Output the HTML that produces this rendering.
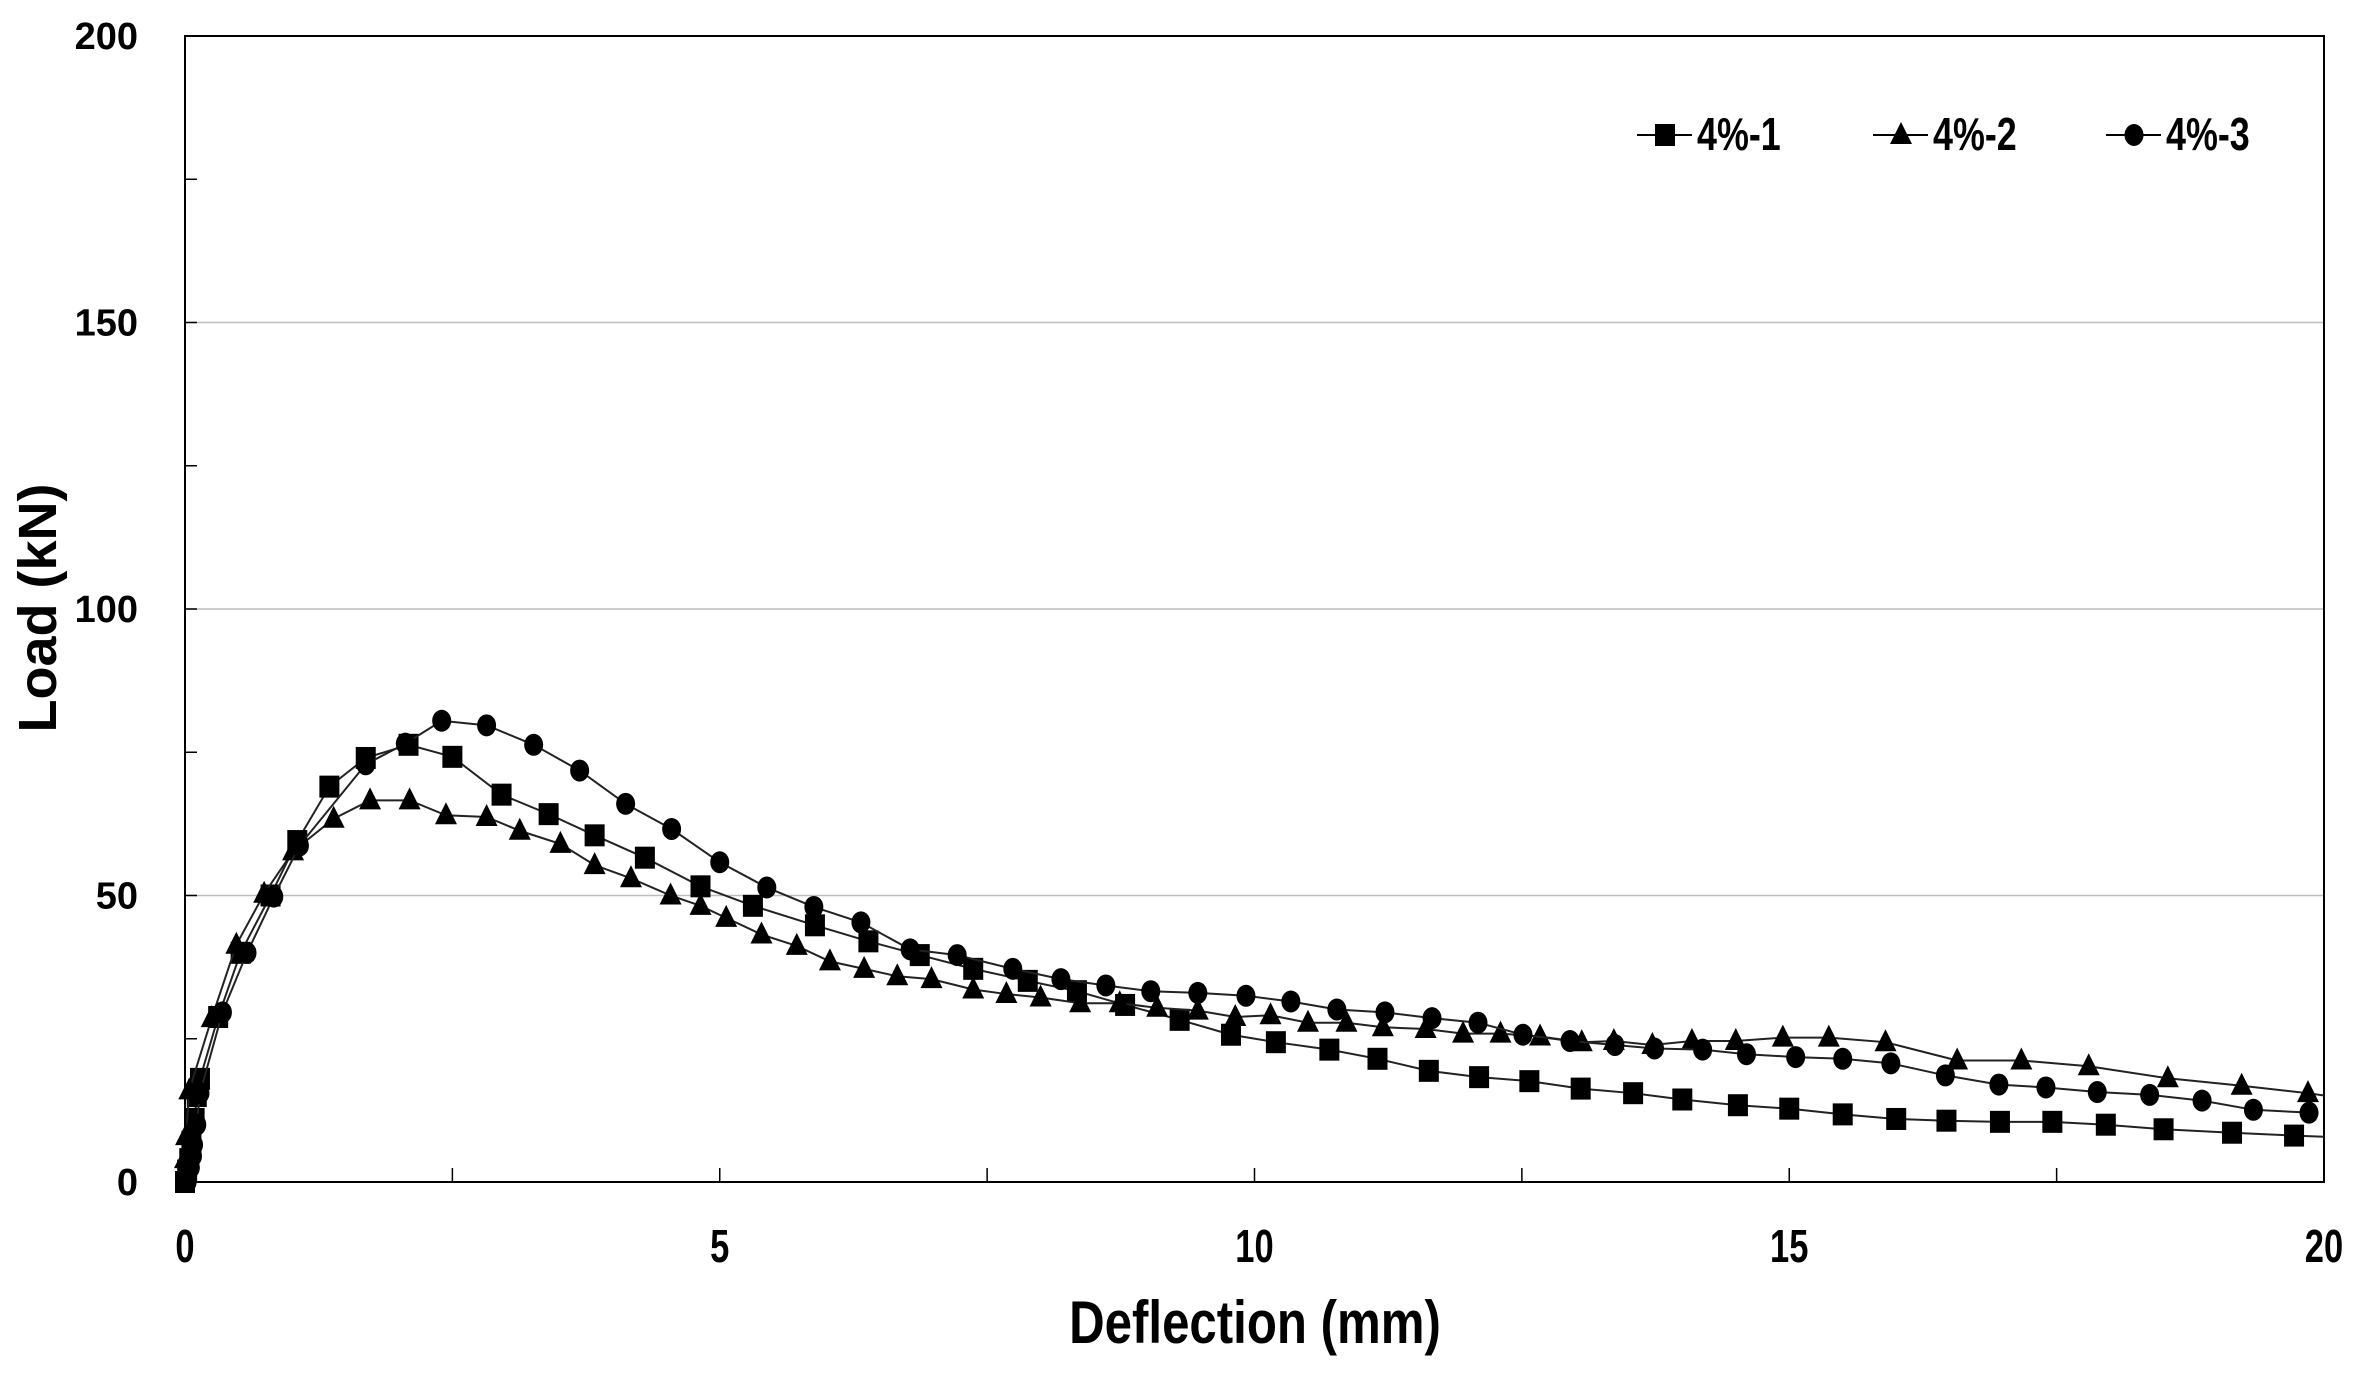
<!DOCTYPE html>
<html><head><meta charset="utf-8"><style>
html,body{margin:0;padding:0;background:#fff;}
svg{display:block;font-family:"Liberation Sans",sans-serif;font-weight:bold;}
</style></head><body>
<svg id="chart" width="2355" height="1373" viewBox="0 0 2355 1373" xmlns="http://www.w3.org/2000/svg">
<g id="grid"></g><g id="axes"></g><g id="series"></g><g id="legend"></g>
</svg>
<script>
const xTicks=[0,5,10,15,20];
const yTicks=[0,50,100,150,200];
const seriesNames=["4%-1","4%-2","4%-3"];
const s1x=[0,0.02,0.04,0.06,0.09,0.11,0.14,0.31,0.52,0.8,1.05,1.35,1.69,2.09,2.5,2.96,3.4,3.83,4.3,4.82,5.31,5.89,6.39,6.87,7.37,7.88,8.34,8.79,9.3,9.78,10.2,10.7,11.15,11.63,12.1,12.57,13.05,13.54,14.0,14.52,15.0,15.5,16.0,16.47,16.97,17.46,17.96,18.5,19.14,19.72,20];
const s1y=[0,2,4,7,11,15,18,28.8,40,50,59.5,69,74,76.3,74.2,67.6,64.2,60.5,56.6,51.6,48.2,44.8,42,39.6,37.2,35.1,33.3,30.9,28.3,25.7,24.4,23.1,21.5,19.4,18.3,17.6,16.3,15.5,14.4,13.4,12.8,11.8,11.0,10.7,10.5,10.5,10.0,9.2,8.6,8.1,7.9];
const s2x=[0,0.01,0.04,0.25,0.48,0.74,1.01,1.39,1.73,2.1,2.44,2.82,3.13,3.51,3.83,4.17,4.54,4.82,5.06,5.39,5.72,6.03,6.35,6.66,6.98,7.37,7.68,8.0,8.37,8.74,9.09,9.47,9.82,10.15,10.5,10.86,11.2,11.6,11.95,12.3,12.67,13.06,13.36,13.72,14.09,14.5,14.94,15.37,15.9,16.57,17.17,17.8,18.54,19.23,19.85,20];
const s2y=[4,8,16,28.6,41.4,50.3,57.7,63.4,66.6,66.6,64,63.7,61.3,59,55.3,53,50,48.2,46.1,43.2,41.2,38.5,37.2,35.9,35.4,33.6,32.8,32.2,31.2,31.2,30.4,29.9,28.8,29.1,27.8,27.8,27,26.7,25.9,25.9,25.4,24.4,24.6,23.9,24.6,24.6,25.2,25.2,24.4,21.2,21.2,20.2,18.1,16.8,15.5,15.1];
const s3x=[0.02,0.05,0.07,0.08,0.11,0.14,0.35,0.58,0.83,1.07,1.69,2.06,2.4,2.82,3.26,3.69,4.12,4.55,5.0,5.44,5.88,6.32,6.78,7.22,7.74,8.19,8.61,9.03,9.47,9.92,10.34,10.77,11.22,11.66,12.09,12.51,12.95,13.37,13.74,14.19,14.6,15.06,15.5,15.95,16.46,16.96,17.4,17.88,18.37,18.86,19.34,19.86];
const s3y=[0,2.5,4.5,6.5,10,15.5,29.6,40,49.8,58.7,72.9,76.5,80.5,79.7,76.3,71.8,66,61.6,55.8,51.4,48,45.3,40.6,39.6,37.2,35.4,34.3,33.3,33,32.5,31.5,30.1,29.6,28.6,27.8,25.7,24.6,23.9,23.3,23.1,22.3,21.8,21.5,20.7,18.6,17.0,16.5,15.7,15.2,14.2,12.6,12.1];

const L=185,R=2324,T=36,B=1182;
const X=v=>L+(v-0)/20*(R-L);
const Y=v=>B-(v-0)/200*(B-T);
const NS="http://www.w3.org/2000/svg";
function mk(tag,parent,attrs){const e=document.createElementNS(NS,tag);for(const k in attrs)e.setAttribute(k,attrs[k]);parent.appendChild(e);return e;}
const grid=document.getElementById('grid'),axes=document.getElementById('axes'),ser=document.getElementById('series'),leg=document.getElementById('legend');

yTicks.forEach(t=>{
  if(t>0&&t<200){const g=mk('line',grid,{x1:L,x2:R,y1:Y(t),y2:Y(t),stroke:'#bdbdbd','stroke-width':1.5});
  
  }
  const lb=mk('text',axes,{x:138,y:Y(t)+13,'text-anchor':'end','font-size':38,fill:'#000'});
  lb.textContent=t;
  
  
});
for(let v=25;v<200;v+=25){mk('line',axes,{x1:L,x2:L+12,y1:Y(v),y2:Y(v),stroke:'#000','stroke-width':1.5});}
for(let v=2.5;v<20;v+=2.5){mk('line',axes,{x1:X(v),x2:X(v),y1:B,y2:B-14,stroke:'#000','stroke-width':1.5});}
xTicks.forEach(t=>{
  const lb=mk('text',axes,{x:X(t),y:1262,'text-anchor':'middle','font-size':46,fill:'#000',transform:`translate(${X(t)},0) scale(0.75,1) translate(${-X(t)},0)`});
  lb.textContent=t;
  
  
});
const frame=mk('rect',axes,{x:L,y:T,width:R-L,height:B-T,fill:'none',stroke:'#000','stroke-width':2});


const yt=mk('text',axes,{x:0,y:0,'text-anchor':'middle','font-size':54,fill:'#000',transform:'translate(56,608) rotate(-90)'});
yt.textContent='Load (kN)';


const xt=mk('text',axes,{x:1255,y:1343,'text-anchor':'middle','font-size':60,fill:'#000',transform:'translate(1255,0) scale(0.82,1) translate(-1255,0)'});
xt.textContent='Deflection (mm)';



function marker(parent,type,cx,cy){
  if(type===0)return mk('rect',parent,{x:cx-10,y:cy-11,width:20,height:22,fill:'#000'});
  if(type===1)return mk('polygon',parent,{points:`${cx},${cy-13} ${cx+11},${cy+9} ${cx-11},${cy+9}`,fill:'#000'});
  return mk('ellipse',parent,{cx:cx,cy:cy,rx:9.5,ry:11,fill:'#000'});
}
const data=[[s1x,s1y],[s2x,s2y],[s3x,s3y]];
data.forEach((d,i)=>{
  const g=mk('g',ser,{});
  
  
  const pts=d[0].map((x,j)=>X(x)+','+Y(d[1][j])).join(' ');
  mk('polyline',g,{points:pts,fill:'none',stroke:'#222','stroke-width':2});
  d[0].forEach((x,j)=>{
    if(i===0&&x>=20)return;
    if(i===1&&x>=20)return;
    const m=marker(g,i,X(x),Y(d[1][j]));
    
    
  });
});
const legX=[1637,1873,2106];
seriesNames.forEach((n,i)=>{
  const g=mk('g',leg,{});
  
  
  const x0=legX[i],cy=135;
  mk('line',g,{x1:x0,x2:x0+55,y1:cy,y2:cy,stroke:'#000','stroke-width':2});
  marker(g,i,x0+28,cy);
  const t=mk('text',g,{x:x0+60,y:cy+15,'font-size':46,fill:'#000',transform:`translate(${x0+60},0) scale(0.78,1) translate(${-(x0+60)},0)`});
  t.textContent=n;
});
</script>
</body></html>
